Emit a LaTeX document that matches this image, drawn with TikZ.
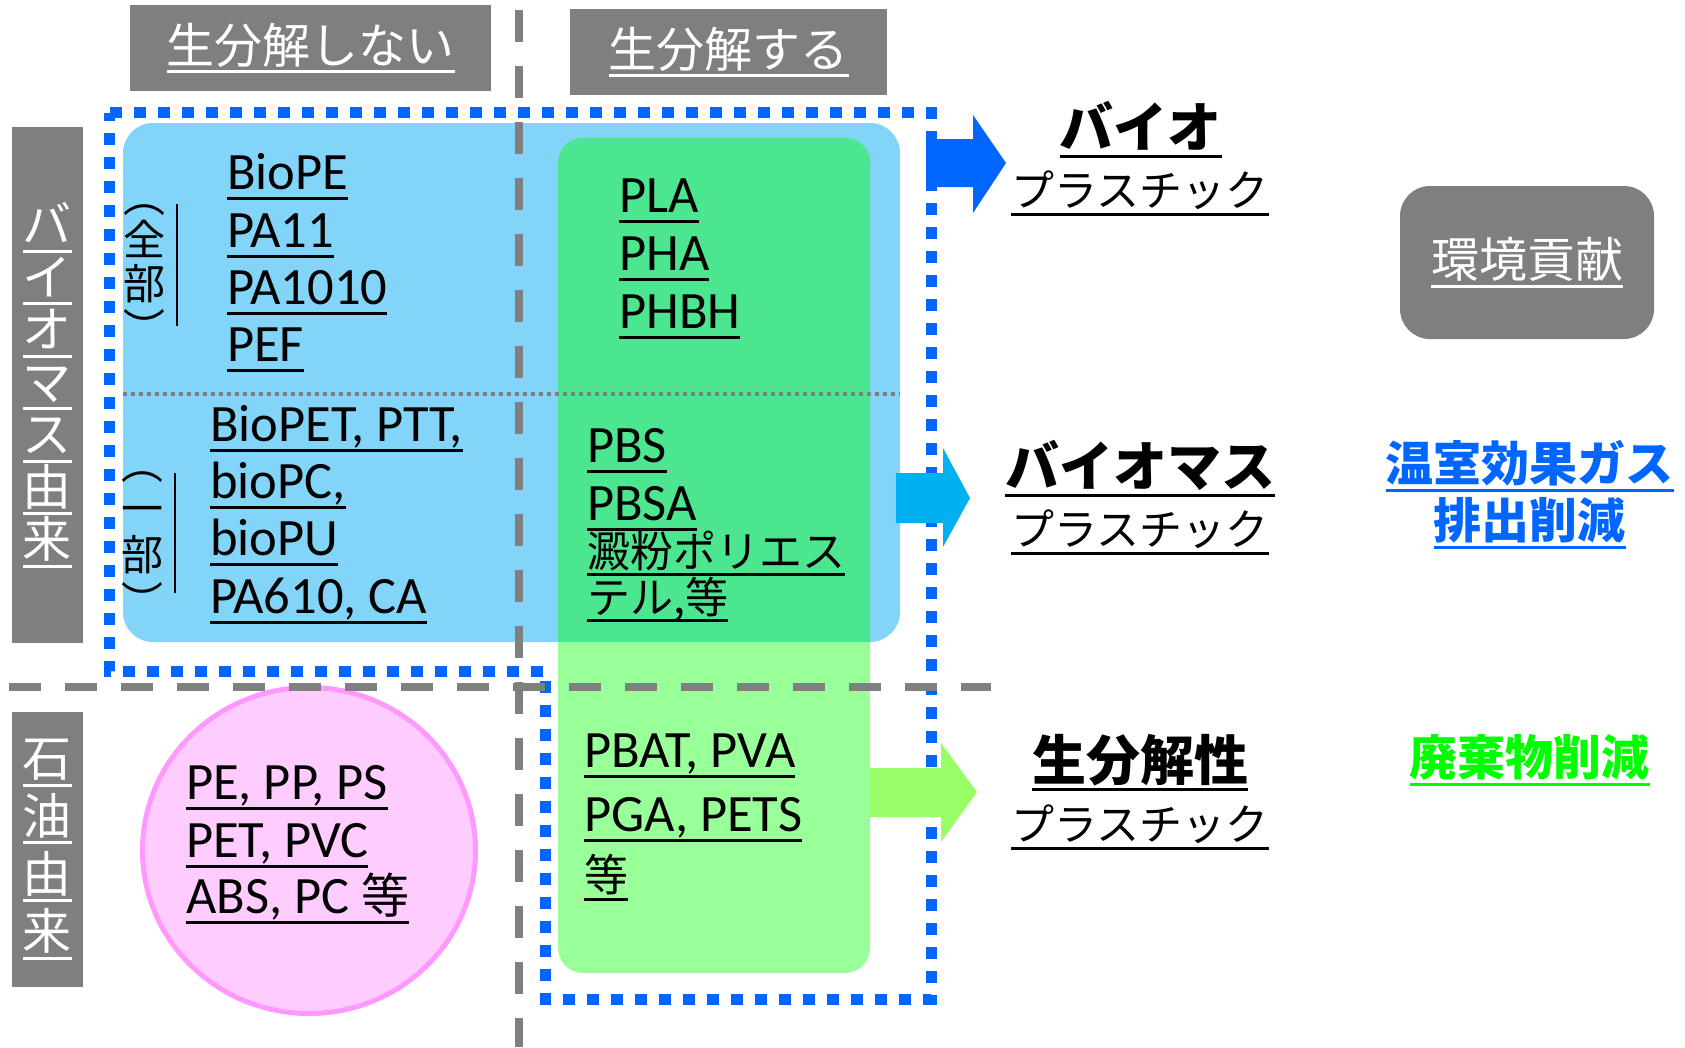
\documentclass[tikz,border=0pt]{standalone}
\usepackage{fontspec}
\usepackage{graphicx}
\setmainfont{Carlito}
\newfontfamily\jp{Noto Sans CJK JP}
\usetikzlibrary{shapes.geometric}
\newsavebox\ulbox
\newcommand{\myul}[1]{\sbox\ulbox{#1}\rlap{\usebox\ulbox}\rule[-\dimexpr0.14em+3pt\relax]{\wd\ulbox}{3pt}}
\newcommand{\vopen}{\rotatebox[origin=c]{-90}{（}}
\newcommand{\vclose}{\rotatebox[origin=c]{-90}{）}}
\definecolor{bluebox}{HTML}{82D5F8}
\definecolor{greenov}{HTML}{4DE690}
\definecolor{greenlt}{HTML}{99FF99}
\definecolor{graybox}{HTML}{7F7F7F}
\definecolor{dotblue}{HTML}{0066FF}
\definecolor{arrcyan}{HTML}{00B0F0}
\definecolor{arrgreen}{HTML}{99FF66}
\definecolor{pinkfill}{HTML}{FFCCFF}
\definecolor{pinkline}{HTML}{FF99FF}
\definecolor{wastegreen}{HTML}{00FF00}
\tikzset{
  lat/.style={anchor=base west, inner sep=0pt, font=\fontsize{52.5pt}{60pt}\selectfont},
  jpl/.style={anchor=base west, inner sep=0pt, font=\jp\fontsize{#1}{#1}\selectfont},
  hdr/.style={fill=graybox, text=white, inner sep=0pt, minimum height=86pt, font=\jp\fontsize{48pt}{56pt}\selectfont},
  vlab/.style={fill=graybox, text=white, inner sep=0pt, align=center, minimum width=71.5pt},
  paren/.style={inner sep=0pt, align=center, text=black},
  rbig/.style={anchor=base, inner sep=0pt, font=\jp\bfseries\fontsize{54pt}{60pt}\selectfont},
  rsub/.style={anchor=base, inner sep=0pt, font=\jp\fontsize{43pt}{50pt}\selectfont},
  effect/.style={anchor=base, inner sep=0pt, text=#1, font=\jp\bfseries\fontsize{48pt}{56pt}\selectfont},
  gdash/.style={draw=graybox, line width=8pt, dash pattern=on 32pt off 24pt},
  gdot/.style={draw=graybox, line width=4pt, dash pattern=on 4pt off 4pt},
  bdot/.style={draw=dotblue, line width=11pt, dash pattern=on 12pt off 12pt},
}
\begin{document}
\begin{tikzpicture}[x=1pt,y=-1pt]
\useasboundingbox (0,0) rectangle (1685,1047);
% header boxes
\node[hdr, minimum width=361pt] (hA) at (310.5,48) {\myul{生分解しない}};
\node[hdr, minimum width=317pt] (hB) at (728.5,52) {\myul{生分解する}};
% side labels
\node[vlab, minimum height=516pt, font=\jp\fontsize{49pt}{52.5pt}\selectfont] (vBio) at (47.25,385)
  {\myul{バ}\\\myul{イ}\\\myul{オ}\\\myul{マ}\\\myul{ス}\\\myul{由}\\\myul{来}};
\node[vlab, minimum height=275pt, font=\jp\fontsize{49pt}{57.7pt}\selectfont] (vOil) at (47.25,849.5)
  {\myul{石}\\\myul{油}\\\myul{由}\\\myul{来}};
% areas
\node[fill=bluebox, rounded corners=30pt, minimum width=777pt, minimum height=519pt, inner sep=0pt] (bio) at (511.5,382.5) {};
\node[fill=greenlt, rounded corners=25pt, minimum width=312pt, minimum height=835pt, inner sep=0pt] (deg) at (714,555.5) {};
\begin{scope}
  \clip[rounded corners=30pt] (bio.north west) rectangle (bio.south east);
  \fill[greenov, rounded corners=25pt] (deg.north west) rectangle (deg.south east);
\end{scope}
\node[ellipse, draw=pinkline, line width=5pt, fill=pinkfill, minimum width=333pt, minimum height=326pt, inner sep=0pt] (fossil) at (309,850.5) {};
% dotted separator inside bio area
\draw[gdot] (123,394) -- (900,394);
% blue dotted outline
\draw[bdot] (109.5,112.5) -- (931,112.5) -- (931,999) -- (545,999) -- (545,671) -- (109.5,671) -- cycle;
% gray dashed axes
\draw[gdash] (518.5,10) -- (518.5,1047);
\draw[gdash] (9,687) -- (991,687);
% (全部) (一部)
\node[paren, font=\jp\fontsize{42pt}{44pt}\selectfont] (zenbu) at (144,262) {\vopen\\全\\部\\\vclose};
\draw[line width=2pt] (177,204) -- (177,326);
\node[paren, font=\jp\fontsize{42pt}{46pt}\selectfont] (ichibu) at (142,532) {\vopen\\一\\部\\\vclose};
\draw[line width=2pt] (175,473) -- (175,593);
% bio, non-degradable
\node[lat] (a1) at (227,189.5) {\myul{BioPE}};
\node[lat] (a2) at (227,247.5) {\myul{PA11}};
\node[lat] (a3) at (227,304.5) {\myul{PA1010}};
\node[lat] (a4) at (227,361.5) {\myul{PEF}};
\node[lat] (b1) at (210,441.5) {\myul{BioPET, PTT,}};
\node[lat] (b2) at (210,498.5) {\myul{bioPC,}};
\node[lat] (b3) at (210,555.5) {\myul{bioPU}};
\node[lat] (b4) at (210,613.5) {\myul{PA610, CA}};
% bio, degradable
\node[lat] (c1) at (619,212.5) {\myul{PLA}};
\node[lat] (c2) at (619,270.5) {\myul{PHA}};
\node[lat] (c3) at (619,328.5) {\myul{PHBH}};
\node[lat] (d1) at (587,462.5) {\myul{PBS}};
\node[lat] (d2) at (587,520.5) {\myul{PBSA}};
\node[jpl=43pt] (d3) at (587,567) {\myul{澱粉ポリエス}};
\node[jpl=43pt] (d4) at (587,613) {\myul{テル,等}};
% fossil, degradable
\node[lat] (e1) at (584,767.5) {\myul{PBAT, PVA}};
\node[lat] (e2) at (584,831.5) {\myul{PGA, PETS}};
\node[jpl=44pt] (e3) at (584,891.5) {\myul{等}};
% fossil, non-degradable
\node[lat] (f1) at (186,799.5) {\myul{PE, PP, PS}};
\node[lat] (f2) at (186,857.5) {\myul{PET, PVC}};
\node[lat] (f3) at (186,913.5) {\myul{ABS, PC {\jp\fontsize{48pt}{50pt}\selectfont 等}}};
% arrows
\fill[dotblue] (926,139) -- (973,139) -- (973,115) -- (1006,163) -- (973,213) -- (973,187) -- (926,187) -- cycle;
\fill[arrcyan] (896,473) -- (943,473) -- (943,448) -- (970,498) -- (943,547) -- (943,523) -- (896,523) -- cycle;
\fill[arrgreen] (869,768) -- (941,768) -- (941,743) -- (977,792) -- (941,842) -- (941,817) -- (869,817) -- cycle;
% right labels
\node[rbig] (g1) at (1140.5,147) {\myul{バイオ}};
\node[rsub] (g2) at (1140,206.5) {\myul{プラスチック}};
\node[rbig] (h1) at (1140,486) {\myul{バイオマス}};
\node[rsub] (h2) at (1140,545.5) {\myul{プラスチック}};
\node[rbig] (k1) at (1140,780) {\myul{生分解性}};
\node[rsub] (k2) at (1140,840.5) {\myul{プラスチック}};
\node[fill=graybox, rounded corners=30pt, minimum width=254pt, minimum height=153pt, inner sep=0pt, text=white, font=\jp\fontsize{48pt}{56pt}\selectfont] (env) at (1527,262.5) {\myul{環境貢献}};
\node[effect=dotblue] (ghg1) at (1529.5,481.8) {\myul{温室効果ガス}};
\node[effect=dotblue] (ghg2) at (1529.5,538.8) {\myul{排出削減}};
\node[effect=wastegreen] (waste) at (1529.5,775.8) {\myul{廃棄物削減}};
\end{tikzpicture}
\end{document}
